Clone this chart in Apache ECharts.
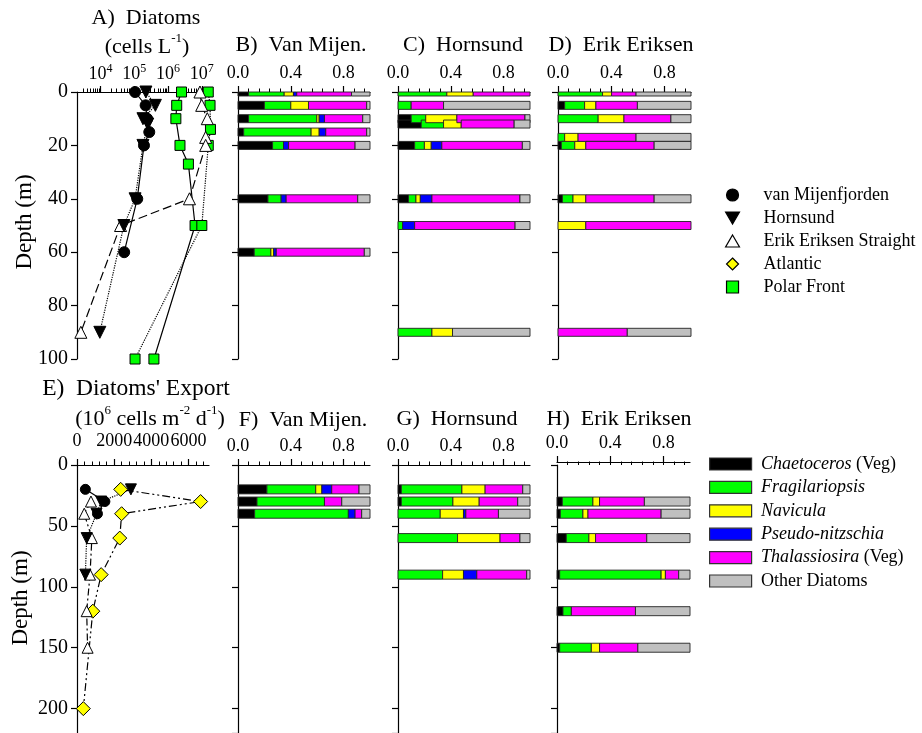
<!DOCTYPE html>
<html><head><meta charset="utf-8">
<script src="https://cdn.jsdelivr.net/npm/echarts@6/dist/echarts.min.js"></script>
<style>html,body{margin:0;padding:0;background:#fff}#c{width:922px;height:733px}</style>
</head><body><div id="c"></div>
<script>
// ================= DATA =================
const taxa = ['Chaetoceros (Veg)', 'Fragilariopsis', 'Navicula', 'Pseudo-nitzschia', 'Thalassiosira (Veg)', 'Other Diatoms'];
const stations = ['van Mijenfjorden', 'Hornsund', 'Erik Eriksen Straight', 'Atlantic', 'Polar Front'];

// Panel A: diatom abundance (cells L-1) vs depth (m)
const vmDepthA = [0, 5, 10, 15, 20, 40, 60];
const vmCellsA = [105000, 216000, 240000, 277000, 193000, 122000, 50000];
const hoDepthA = [0, 5, 10, 12, 20, 40, 50, 90];
const hoCellsA = [220000, 420000, 180000, 250000, 180000, 105000, 49000, 9500];
const eeDepthA = [0, 5, 10, 17, 20, 40, 50, 90];
const eeCellsA = [8800000, 9900000, 14500000, 13000000, 13000000, 4300000, 39000, 2600];
const pf1DepthA = [0, 5, 10, 20, 27, 50, 100];
const pf1CellsA = [2500000, 1800000, 1700000, 2250000, 4000000, 6300000, 380000];
const pf2DepthA = [0, 5, 14, 20, 50, 100];
const pf2CellsA = [15500000, 17500000, 18000000, 15500000, 10000000, 105000];
const cellsTicksA = [10000, 100000, 1000000, 10000000];
const cellsRangeA = [2000, 20000000];

// Panel E: diatom export (10^6 cells m-2 d-1) vs depth (m)
const vmDepthE = [20, 30, 40];
const vmFluxE = [450, 1500, 1100];
const hoDepthE = [20, 30, 40, 60, 90];
const hoFluxE = [2900, 1300, 1050, 520, 450];
const eeDepthE = [30, 40, 60, 90, 120, 150];
const eeFluxE = [750, 390, 800, 700, 520, 570];
const atDepthE = [20, 30, 40, 60, 90, 120, 200];
const atFluxE = [2350, 6650, 2400, 2300, 1300, 850, 340];
const fluxTicksE = [0, 2000, 4000, 6000];

// Relative composition (fractions per taxon, order as in `taxa`)
const fracTicks = [0, 0.4, 0.8];
// B) Van Mijen. (water column)
const vmDepthB = [0, 5, 10, 15, 20, 40, 60];
const vmFracB = [
  [0.08, 0.27, 0.07, 0.025, 0.415, 0.14],
  [0.20, 0.20, 0.134, 0, 0.441, 0.025],
  [0.08, 0.517, 0.018, 0.04, 0.29, 0.055],
  [0.043, 0.511, 0.061, 0.05, 0.31, 0.025],
  [0.262, 0.083, 0, 0.038, 0.504, 0.113],
  [0.227, 0.10, 0, 0.038, 0.542, 0.093],
  [0.123, 0.126, 0.021, 0.02, 0.667, 0.043]
];
// C) Hornsund (water column)
const hoDepthC = [0, 5, 10, 12, 20, 40, 50, 90];
const hoFracC = [
  [0, 0.37, 0.20, 0, 0.43, 0],
  [0, 0.10, 0, 0, 0.245, 0.655],
  [0.10, 0.11, 0.236, 0, 0.516, 0.038],
  [0.176, 0.169, 0.134, 0, 0.401, 0.12],
  [0.126, 0.074, 0.052, 0.08, 0.61, 0.058],
  [0.08, 0.056, 0.033, 0.088, 0.667, 0.076],
  [0, 0.035, 0, 0.091, 0.761, 0.113],
  [0, 0.257, 0.156, 0, 0, 0.587]
];
// D) Erik Eriksen (water column)
const eeDepthD = [0, 5, 10, 17, 20, 40, 50, 90];
const eeFracD = [
  [0, 0.335, 0.068, 0, 0.184, 0.413],
  [0.05, 0.15, 0.085, 0, 0.312, 0.403],
  [0, 0.302, 0.194, 0, 0.353, 0.151],
  [0, 0.05, 0.101, 0, 0.436, 0.413],
  [0.025, 0.101, 0.083, 0, 0.514, 0.277],
  [0.033, 0.08, 0.096, 0, 0.514, 0.277],
  [0, 0, 0.209, 0, 0.791, 0],
  [0, 0, 0, 0, 0.521, 0.479]
];
// F) Van Mijen. (export)
const vmDepthF = [20, 30, 40];
const vmFracF = [
  [0.219, 0.37, 0.046, 0.075, 0.207, 0.083],
  [0.144, 0.511, 0, 0, 0.131, 0.214],
  [0.126, 0.71, 0, 0.051, 0.05, 0.063]
];
// G) Hornsund (export)
const hoDepthG = [20, 30, 40, 60, 90];
const hoFracG = [
  [0.025, 0.459, 0.176, 0, 0.285, 0.055],
  [0.025, 0.391, 0.199, 0, 0.292, 0.093],
  [0, 0.32, 0.176, 0.018, 0.247, 0.239],
  [0, 0.451, 0.322, 0, 0.151, 0.076],
  [0, 0.338, 0.158, 0.101, 0.378, 0.025]
];
// H) Erik Eriksen (export)
const eeDepthH = [30, 40, 60, 90, 120, 150];
const eeFracH = [
  [0.04, 0.23, 0.05, 0, 0.337, 0.343],
  [0.025, 0.17, 0.038, 0, 0.55, 0.217],
  [0.07, 0.17, 0.05, 0, 0.385, 0.325],
  [0.02, 0.763, 0.032, 0, 0.10, 0.085],
  [0.045, 0.063, 0, 0, 0.482, 0.41],
  [0.02, 0.238, 0.062, 0, 0.288, 0.392]
];

// ================= STYLE / BUILD =================
const FONT = 'Liberation Serif';
const taxaColors = ['#000000', '#00ff00', '#ffff00', '#0000ff', '#ff00ff', '#c0c0c0'];
const chart = echarts.init(document.getElementById('c'));
const grids = [], xAxes = [], yAxes = [], series = [];

function addGrid(left, top, width, height) {
  grids.push({left, top, width, height, containLabel: false, outerBoundsMode: 'none'});
  return grids.length - 1;
}
function mainX(gi, min, max, labelVals, fmt, margin, rich, offset) {
  xAxes.push({type: 'value', gridIndex: gi, position: 'top', min, max, offset: offset || 0,
    axisLine: {show: true, onZero: false, lineStyle: {color: '#000', width: 1.2}},
    axisTick: {show: true, inside: false, length: 6, customValues: labelVals, lineStyle: {color: '#000', width: 1.2}},
    axisLabel: {show: true, customValues: labelVals, formatter: fmt, margin, color: '#000', fontFamily: FONT, fontSize: 18, rich},
    splitLine: {show: false}});
  return xAxes.length - 1;
}
function minorX(gi, min, max, vals, offset) {
  xAxes.push({type: 'value', gridIndex: gi, position: 'top', min, max, offset: offset || 0,
    axisLine: {show: false}, axisLabel: {show: false}, splitLine: {show: false},
    axisTick: {show: true, inside: false, length: 3.5, customValues: vals, lineStyle: {color: '#000', width: 1}}});
}
function yAx(gi, max, interval, showLabel) {
  yAxes.push({type: 'value', gridIndex: gi, inverse: true, min: 0, max, interval,
    axisLine: {show: true, onZero: false, lineStyle: {color: '#000', width: 1.2}},
    axisTick: {show: true, inside: false, length: 6, lineStyle: {color: '#000', width: 1.2}},
    axisLabel: {show: showLabel, showMaxLabel: max === 100, margin: 9, color: '#000', fontFamily: FONT, fontSize: 20},
    splitLine: {show: false}});
  return yAxes.length - 1;
}

const fracMinor = []; for (let i = 1; i <= 12; i++) fracMinor.push(+(i * 0.08).toFixed(2));
const fracFmt = v => v.toFixed(1);

function makeRender(h) {
  return function (params, api) {
    const d = api.value(0), s = api.value(1), e = api.value(2);
    const p0 = api.coord([s, d]), p1 = api.coord([e, d]);
    const cs = params.coordSys;
    let y0 = p0[1] - h / 2, y1 = p0[1] + h / 2;
    y0 = Math.max(y0, cs.y); y1 = Math.min(y1, cs.y + cs.height);
    if (y1 <= y0) return null;
    return {type: 'rect', shape: {x: p0[0], y: y0, width: p1[0] - p0[0], height: y1 - y0},
      style: {fill: api.visual('color'), stroke: '#222', lineWidth: 0.9}};
  };
}
function barPanel(left, top, width, height, ymax, yint, depths, fracs, barH, offset) {
  const gi = addGrid(left, top, width, height);
  const xi = mainX(gi, 0, 1, fracTicks, fracFmt, 10, null, offset);
  minorX(gi, 0, 1, fracMinor, offset);
  const yi = yAx(gi, ymax, yint, false);
  const render = makeRender(barH);
  taxa.forEach((t, k) => {
    const data = [];
    depths.forEach((d, r) => {
      const row = fracs[r];
      let s = 0; for (let j = 0; j < k; j++) s += row[j];
      if (row[k] > 0) data.push([d, s, s + row[k]]);
    });
    series.push({type: 'custom', name: t, xAxisIndex: xi, yAxisIndex: yi, data,
      encode: {x: [1, 2], y: 0}, itemStyle: {color: taxaColors[k]}, renderItem: render, z: 2, silent: true});
  });
}
function lineSer(name, xi, yi, xs, ys, sym, size, fill, ltype, rot) {
  series.push({type: 'line', name, xAxisIndex: xi, yAxisIndex: yi,
    data: xs.map((x, i) => [x, ys[i]]), symbol: sym, symbolSize: size, symbolRotate: rot || 0,
    showSymbol: true, clip: false, z: 3,
    itemStyle: {color: fill, borderColor: '#000', borderWidth: 1},
    lineStyle: {color: '#000', width: 1.2, type: ltype}});
}

// ---- Panel A ----
const lg = Math.log10;
const gA = addGrid(77, 92, 135, 267);
const supRich = {b: {fontFamily: FONT, fontSize: 18, color: '#000', lineHeight: 20, verticalAlign: 'bottom'},
                 s: {fontFamily: FONT, fontSize: 12, color: '#000', lineHeight: 12, verticalAlign: 'top'}};
const xA = mainX(gA, lg(cellsRangeA[0]), lg(cellsRangeA[1]), cellsTicksA.map(lg),
  v => '{b|10}{s|' + Math.round(v) + '}', 9, supRich);
const minorA = [];
for (let e = 3; e <= 7; e++) for (let m = 2; m <= 9; m++) {
  const v = m * Math.pow(10, e);
  if (v > cellsRangeA[0] && v <= cellsRangeA[1]) minorA.push(lg(v));
}
minorX(gA, lg(cellsRangeA[0]), lg(cellsRangeA[1]), minorA);
const yA = yAx(gA, 100, 20, true);
lineSer('Polar Front', xA, yA, pf1CellsA.map(lg), pf1DepthA, 'rect', 10, '#00ff00', 'solid');
lineSer('Polar Front', xA, yA, pf2CellsA.map(lg), pf2DepthA, 'rect', 10, '#00ff00', 'dotted');
lineSer('Erik Eriksen Straight', xA, yA, eeCellsA.map(lg), eeDepthA, 'triangle', 12, '#ffffff', [9, 4]);
lineSer('Hornsund', xA, yA, hoCellsA.map(lg), hoDepthA, 'triangle', 12, '#000000', 'dotted', 180);
lineSer('van Mijenfjorden', xA, yA, vmCellsA.map(lg), vmDepthA, 'circle', 11, '#000000', 'solid');

// ---- Bar panels top ----
barPanel(238, 92, 132, 267, 100, 20, vmDepthB, vmFracB, 8);
barPanel(398, 92, 132, 267, 100, 20, hoDepthC, hoFracC, 8);
barPanel(558, 92, 133, 267, 100, 20, eeDepthD, eeFracD, 8);

// ---- Panel E ----
const gE = addGrid(77, 465, 132, 268);
const xE = mainX(gE, 0, 7100, fluxTicksE, v => String(v), 15, null);
const minorE = []; for (let v = 400; v <= 6800; v += 400) minorE.push(v);
minorX(gE, 0, 7100, minorE);
const yE = yAx(gE, 220, 50, true);
lineSer('Atlantic', xE, yE, atFluxE, atDepthE, 'diamond', 14, '#ffff00', [8, 3, 2, 3, 2, 3]);
lineSer('Erik Eriksen Straight', xE, yE, eeFluxE, eeDepthE, 'triangle', 11, '#ffffff', [7, 3, 2, 3]);
lineSer('Hornsund', xE, yE, hoFluxE, hoDepthE, 'triangle', 11, '#000000', 'dotted', 180);
lineSer('van Mijenfjorden', xE, yE, vmFluxE, vmDepthE, 'circle', 10, '#000000', 'solid');

// ---- Bar panels bottom ----
barPanel(238, 465, 132, 268, 220, 50, vmDepthF, vmFracF, 9);
barPanel(398, 465, 132, 268, 220, 50, hoDepthG, hoFracG, 9);
barPanel(557, 465, 133, 268, 220, 50, eeDepthH, eeFracH, 9, 3);

// ---- Legends ----
const icons = {
  circle: 'path://M0,10a10,10 0 1,0 20,0a10,10 0 1,0 -20,0Z',
  tdown: 'path://M0,0L20,0L10,17.3Z',
  tup: 'path://M10,0L20,17.3L0,17.3Z',
  diamond: 'path://M10,0L20,10L10,20L0,10Z',
  square: 'path://M0,0L20,0L20,20L0,20Z'
};
const stIcon = [icons.circle, icons.tdown, icons.tup, icons.diamond, icons.square];
const stFill = ['#000000', '#000000', '#ffffff', '#ffff00', '#00ff00'];
const legendSt = {
  orient: 'vertical', left: 720, top: 181, itemWidth: 52, itemHeight: 12, itemGap: 5,
  symbolKeepAspect: true, selectedMode: false,
  textStyle: {fontFamily: FONT, fontSize: 18, color: '#000'},
  data: stations.map((s, i) => ({name: s, icon: stIcon[i],
    itemStyle: {color: stFill[i], borderColor: '#000', borderWidth: 1.2}}))
};
const legendTx = {
  orient: 'vertical', left: 704, top: 450, itemWidth: 42, itemHeight: 12, itemGap: 5.4,
  selectedMode: false,
  textStyle: {fontFamily: FONT, fontSize: 18, color: '#000',
    rich: {i: {fontFamily: FONT, fontSize: 18, fontStyle: 'italic', color: '#000'},
           n: {fontFamily: FONT, fontSize: 18, color: '#000'}}},
  formatter: name => {
    const m = name.match(/^(\S+) (\(Veg\))$/);
    if (m) return ' {i|' + m[1] + '}{n| ' + m[2] + '}';
    if (name === 'Other Diatoms') return ' {n|Other Diatoms}';
    return ' {i|' + name + '}';
  },
  data: taxa.map((t, k) => ({name: t, icon: 'rect',
    itemStyle: {color: taxaColors[k], borderColor: '#333', borderWidth: 1.2}}))
};

// ---- Titles ----
function txt(x, y, text, size, rich, rot) {
  const st = {text, fill: '#000', font: size + 'px "' + FONT + '"', fontSize: size, fontFamily: FONT,
    align: 'center', verticalAlign: 'middle', textAlign: 'center', textVerticalAlign: 'middle'};
  if (rich) st.rich = rich;
  return {type: 'text', x, y, rotation: rot || 0, style: st, silent: true};
}
const tRich = {n: {fontFamily: FONT, fontSize: 22, color: '#000', lineHeight: 26, verticalAlign: 'bottom'},
               s: {fontFamily: FONT, fontSize: 13, color: '#000', lineHeight: 13, verticalAlign: 'top'}};
const graphic = [
  txt(146, 18, 'A)  Diatoms', 22),
  txt(147, 45, '{n|(cells L}{s|-1}{n|)}', 22, tRich),
  txt(301, 45, 'B)  Van Mijen.', 22),
  txt(463, 45, 'C)  Hornsund', 22),
  txt(621, 45, 'D)  Erik Eriksen', 22),
  txt(136, 389, 'E)  Diatoms\' Export', 23.5),
  txt(150, 417, '{n|(10}{s|6}{n| cells m}{s|-2}{n| d}{s|-1}{n|)}', 22, tRich),
  txt(303, 420, 'F)  Van Mijen.', 22),
  txt(457, 419, 'G)  Hornsund', 22),
  txt(619, 419, 'H)  Erik Eriksen', 22),
  txt(25, 222, 'Depth (m)', 23, null, Math.PI / 2),
  txt(21, 598, 'Depth (m)', 23, null, Math.PI / 2)
];

chart.setOption({
  animation: false,
  backgroundColor: '#fff',
  grid: grids, xAxis: xAxes, yAxis: yAxes, series,
  legend: [legendSt, legendTx],
  graphic
});
</script></body></html>
